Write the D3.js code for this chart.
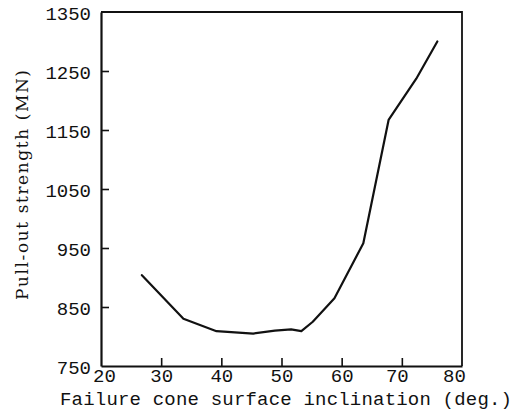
<!DOCTYPE html>
<html>
<head>
<meta charset="utf-8">
<script src="https://cdn.jsdelivr.net/npm/d3@7"></script>
<style>
  html, body { margin: 0; padding: 0; background: #fff; }
  svg { display: block; }
</style>
</head>
<body>
<script>
// Data
const inclination = [26.8, 33.7, 39.2, 45.3, 48.9, 51.6, 53.3, 55.2, 58.8, 63.6, 67.8, 72.4, 75.9];
const strength    = [904, 830, 809, 805, 810, 812, 809, 825, 865, 958, 1167, 1237, 1300];
const xTicks = [20, 30, 40, 50, 60, 70, 80];
const yTicks = [750, 850, 950, 1050, 1150, 1250, 1350];
const xTitle = "Failure cone surface inclination (deg.)";
const yTitle = "Pull-out strength (MN)";

const W = 528, H = 415;
const L = 101, R = 462, T = 12, B = 366;

const svg = d3.select("body").append("svg").attr("width", W).attr("height", H);

const x = d3.scaleLinear().domain([20, 80]).range([L, R]);
const y = d3.scaleLinear().domain([750, 1350]).range([B, T]);

const ink = "#111";

// frame (top and right)
svg.append("path")
  .attr("d", `M${x(20)},${y(1350)}H${x(80)}V${y(750)}`)
  .attr("fill", "none").attr("stroke", ink).attr("stroke-width", 1.8);

// bottom axis with inward ticks
const xAxis = d3.axisBottom(x).tickValues(xTicks).tickSizeInner(-8).tickSizeOuter(0).tickPadding(3)
  .tickFormat(d3.format("d"));
const gx = svg.append("g").attr("transform", `translate(0,${B})`).call(xAxis);
gx.select(".domain").attr("stroke", ink).attr("stroke-width", 2.2);
gx.selectAll(".tick line").attr("stroke", ink).attr("stroke-width", 1.6)
  .attr("display", d => (d === 20 || d === 80) ? "none" : null);
gx.selectAll(".tick text")
  .attr("font-family", "'Liberation Mono', 'Courier New', monospace")
  .attr("font-size", 19).attr("fill", ink)
  .attr("dx", d => d === 20 ? 3 : (d === 80 ? -8 : (d === 70 ? -5 : 0)));

// left axis with inward ticks
const yAxis = d3.axisLeft(y).tickValues(yTicks).tickSizeInner(-8).tickSizeOuter(0).tickPadding(10)
  .tickFormat(d3.format("d"));
const gy = svg.append("g").attr("transform", `translate(${L},0)`).call(yAxis);
gy.select(".domain").attr("stroke", ink).attr("stroke-width", 2.2);
gy.selectAll(".tick line").attr("stroke", ink).attr("stroke-width", 1.6)
  .attr("display", d => (d === 750 || d === 1350) ? "none" : null);
gy.selectAll(".tick text")
  .attr("font-family", "'Liberation Mono', 'Courier New', monospace")
  .attr("font-size", 19).attr("fill", ink)
  .attr("dy", "0.38em");

// data line
const pts = inclination.map((v, i) => [v, strength[i]]);
svg.append("path")
  .datum(pts)
  .attr("d", d3.line().x(d => x(d[0])).y(d => y(d[1])))
  .attr("fill", "none").attr("stroke", ink).attr("stroke-width", 2.2)
  .attr("stroke-linejoin", "round").attr("stroke-linecap", "round");

// axis titles
svg.append("text")
  .attr("x", 60).attr("y", 405)
  .attr("font-family", "'Liberation Mono', 'Courier New', monospace")
  .attr("font-size", 19).attr("fill", ink)
  .attr("textLength", 452).attr("lengthAdjust", "spacing")
  .text(xTitle);

svg.append("text")
  .attr("transform", `translate(28,185) rotate(-90)`)
  .attr("text-anchor", "middle")
  .attr("font-family", "'DejaVu Serif', 'Liberation Serif', serif")
  .attr("font-size", 17).attr("fill", ink)
  .attr("textLength", 230).attr("lengthAdjust", "spacing")
  .text(yTitle);
</script>
</body>
</html>
